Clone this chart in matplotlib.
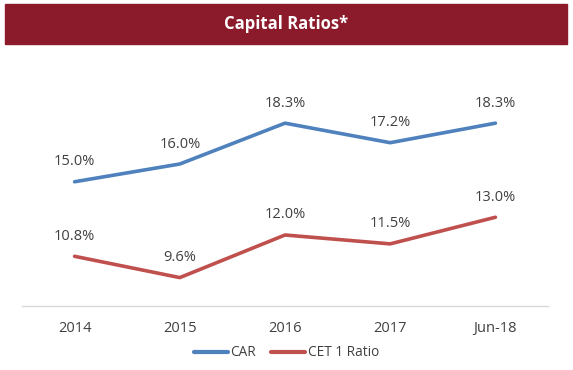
import matplotlib
matplotlib.use("Agg")
import matplotlib.pyplot as plt
from matplotlib.patches import Rectangle
from matplotlib.lines import Line2D

# ----------------------------------------------------------------------
# DATA
# ----------------------------------------------------------------------
periods = ["2014", "2015", "2016", "2017", "Jun-18"]
car = [15.0, 16.0, 18.3, 17.2, 18.3]
cet1 = [10.8, 9.6, 12.0, 11.5, 13.0]

BLUE = "#4F81BD"
RED = "#C0504D"
TEXT = "#404040"
BAR = "#8B1A2B"

plt.rcParams["font.family"] = ["Open Sans", "DejaVu Sans"]

fig = plt.figure(figsize=(5.73, 3.70), dpi=100)

# ---------- title bar ---------------------------------------------
fig.patches.append(Rectangle((5 / 573, 1 - 44 / 370), 562 / 573, 40 / 370,
                             transform=fig.transFigure, color=BAR, zorder=0))
fig.text(0.5, 1 - 24 / 370, "Capital Ratios*", color="white", fontsize=12,
         fontweight="bold", ha="center", va="center")

# ---------- lines -------------------------------------------------
ax = fig.add_axes([22 / 573, 1 - 306 / 370, 526 / 573, 213 / 370])
x = list(range(len(periods)))
ax.plot(x, car, color=BLUE, lw=2.6, solid_capstyle="round", label="CAR")
ax.plot(x, cet1, color=RED, lw=2.6, solid_capstyle="round", label="CET 1 Ratio")

for series in (car, cet1):
    for xi, v in zip(x, series):
        ax.annotate(f"{v:.1f}%", (xi, v), xytext=(0, 9), textcoords="offset points",
                    ha="center", va="bottom", fontsize=10.5, color=TEXT)

ax.set_xlim(-0.5, len(periods) - 0.5)
ax.set_ylim(8, 20)
ax.set_xticks(x)
ax.set_xticklabels(periods, fontsize=10.5, color=TEXT)
ax.tick_params(axis="x", length=0, pad=11)
ax.set_yticks([])
for s in ["top", "right", "left"]:
    ax.spines[s].set_visible(False)
ax.spines["bottom"].set_color("#D9D9D9")
ax.spines["bottom"].set_linewidth(1)
ax.set_facecolor("none")

# ---------- legend ------------------------------------------------
handles = [Line2D([], [], color=BLUE, lw=3, solid_capstyle="round"),
           Line2D([], [], color=RED, lw=3, solid_capstyle="round")]
fig.legend(handles, ["CAR", "CET 1 Ratio"], loc="center",
           bbox_to_anchor=(0.5, 1 - 353 / 370), ncol=2, frameon=False,
           fontsize=9.8, labelcolor=TEXT, handlelength=2.5, handletextpad=0.2,
           columnspacing=1.1)

fig.savefig("out.png", dpi=100)
